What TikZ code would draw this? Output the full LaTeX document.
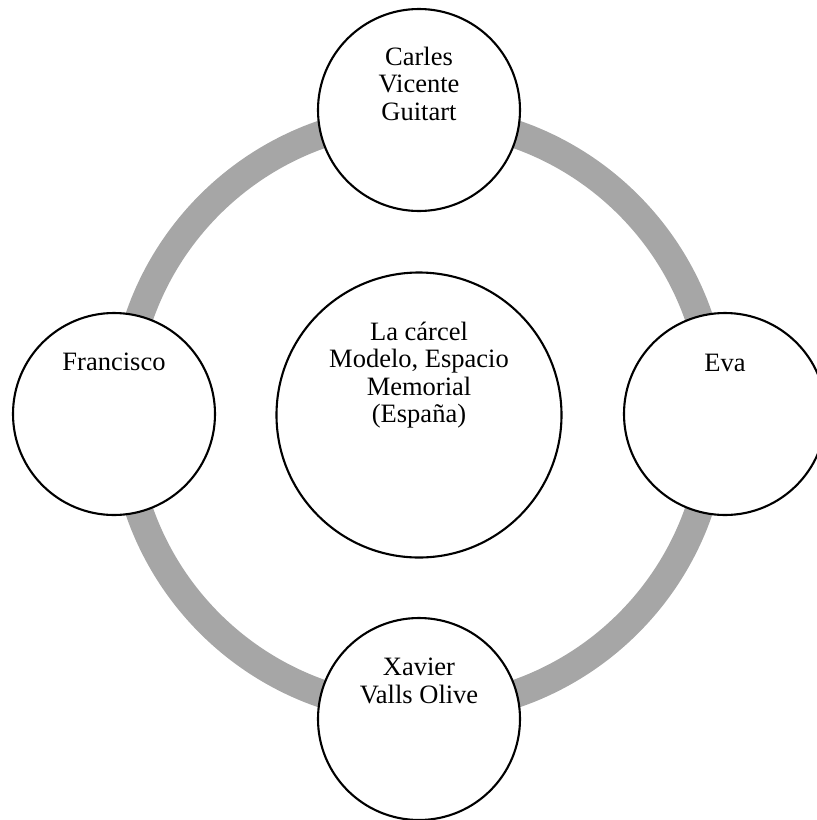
\documentclass[tikz,border=0pt]{standalone}
\usepackage{fontspec}
\setmainfont{Liberation Serif}
\definecolor{ringgray}{HTML}{A6A6A6}
\begin{document}
\begin{tikzpicture}[x=1pt,y=-1pt,
  sat/.style={circle,draw=black,line width=2.1pt,fill=white,minimum size=202pt,inner sep=0pt},
  hub/.style={circle,draw=black,line width=2.1pt,fill=white,minimum size=285pt,inner sep=0pt},
  lbl/.style={font=\fontsize{26.5pt}{27.6pt}\selectfont,align=center,anchor=base,inner sep=0pt}]
\useasboundingbox (0,0) rectangle (817,820);
\clip (0,0) rectangle (817,820);
\coordinate (c) at (419,414);
\draw[line width=28pt,color=ringgray] (c) circle[radius=296pt];
\node[hub] (hub) at (419,415) {};
\node[sat] (top) at (419,110) {};
\node[sat] (left) at (114,414) {};
\node[sat] (right) at (725,414) {};
\node[sat] (bottom) at (419,719) {};
\node[lbl] (tHub) at (419,422.8) {La cárcel\\Modelo, Espacio\\Memorial\\(España)};
\node[lbl] (tTop) at (419,120.4) {Carles\\Vicente\\Guitart};
\node[lbl] (tLeft) at (114,370) {Francisco};
\node[lbl] (tRight) at (725,371) {Eva};
\node[lbl] (tBot) at (419,703.4) {Xavier\\Valls Olive};
\end{tikzpicture}
\end{document}
